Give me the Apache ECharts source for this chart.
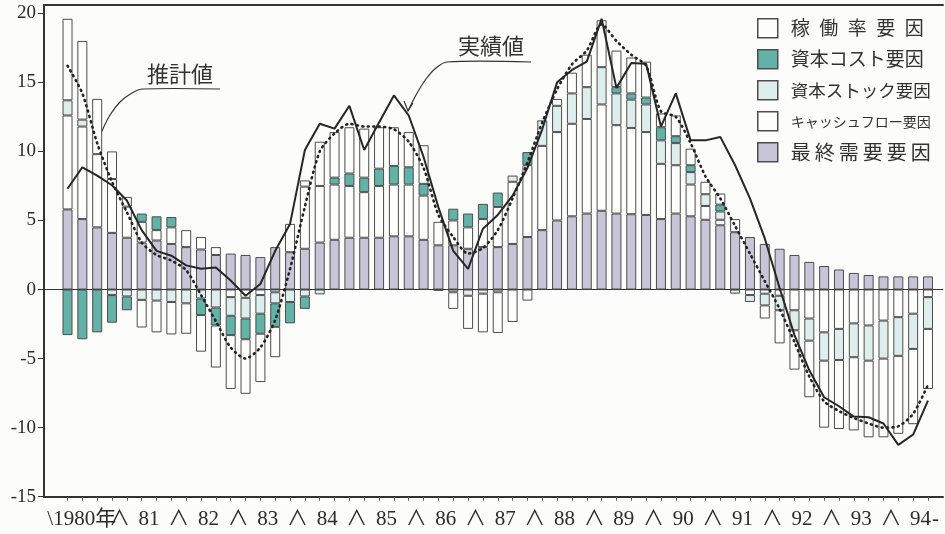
<!DOCTYPE html>
<html><head><meta charset="utf-8">
<script src="https://cdn.jsdelivr.net/npm/echarts@6/dist/echarts.min.js"></script>
<style>html,body{margin:0;padding:0;background:#fcfcfa}#c{width:945px;height:534px}</style>
</head><body><div id="c"></div>
<script>
// ---- data (1980Q1 .. 1994Q3), % contributions ----
const finalDemand = [5.8,5.1,4.5,4.1,3.75,3.4,3.55,3.3,3.07,2.9,2.5,2.6,2.5,2.35,3.07,2.7,2.95,3.4,3.6,3.75,3.75,3.75,3.85,3.85,3.6,3.2,3.2,2.95,3.07,3.07,3.3,3.8,4.3,5.0,5.3,5.5,5.7,5.5,5.45,5.4,5.1,5.5,5.3,5.05,4.65,4.15,3.8,3.3,2.95,2.5,2.0,1.7,1.45,1.2,1.05,0.95,0.95,0.95,0.95];
const cashFlow = [6.8,6.7,5.3,3.9,2.25,1.5,0.75,1.2,1.23,0.9,0.57,-0.55,-0.6,-0.4,-0.2,2.05,4.5,4.1,4.0,3.75,3.3,3.75,3.75,3.75,3.2,1.7,1.8,1.55,2.03,2.9,4.5,5.2,6.1,6.4,6.7,6.85,7.7,6.4,6.25,6.0,4.0,3.5,2.3,1.0,0.4,0.95,-0.4,-0.3,-0.45,-1.5,-2.1,-3.1,-2.85,-2.45,-2.6,-2.25,-2.0,-1.75,-0.55];
const capitalStock = [1.1,0.5,0,-0.4,-0.5,-0.75,-0.8,-0.9,-1.0,-0.65,-1.3,-1.35,-1.5,-1.35,-0.8,-0.9,-0.5,-0.35,0,0,0,0,0,0,0,-0.1,-0.2,-0.45,-0.3,-0.2,0.45,0,1.85,1.9,2.2,2.3,2.7,2.3,2.05,2.0,1.7,1.6,0.9,0.85,0.6,-0.3,-0.5,-0.85,-1.05,-1.45,-1.6,-2.05,-2.25,-2.45,-2.55,-2.75,-2.8,-2.55,-2.3];
const capitalCost = [-3.3,-3.6,-3.1,-2.0,-1.0,0.6,1.0,0.75,0,-1.2,-1.3,-1.4,-1.5,-1.45,-1.7,-1.55,-0.9,0,0.5,0.9,1.05,1.25,1.35,1.25,0.85,0,0.85,1.0,1.1,1.05,0,0.95,0,0,0,0,0,0.45,0.45,0.5,0.95,0.5,0.5,0,0.5,0,0,0,0,0,0,0,0,0,0,0,0,0,0];
const utilization = [5.9,5.7,4.0,2.0,0.7,-2.0,-2.3,-2.35,-2.2,-2.65,-3.05,-3.9,-3.95,-3.5,-2.2,0,0.45,3.2,3.3,3.35,3.55,3.0,2.8,2.55,2.8,0,-1.2,-2.4,-2.8,-2.95,-2.35,-0.8,0,0.5,1.5,2.35,3.4,2.65,2.6,2.6,1.0,1.5,1.2,0.9,0.8,0,0,-0.95,-2.4,-2.85,-4.1,-4.85,-5.0,-5.3,-5.55,-5.7,-5.65,-5.45,-4.35];
const actual = [7.3,8.85,8.25,7.55,6.45,4.3,2.8,2.45,1.75,1.5,1.6,0.65,-0.45,0.4,2.8,4.75,10.1,12.0,11.65,13.3,10.1,12.1,14.05,12.6,9.6,5.95,2.8,1.5,4.4,5.4,6.8,8.8,11.6,15.0,15.9,16.5,19.6,14.6,16.4,16.35,11.8,14.2,10.8,10.8,11.05,9.0,6.6,3.7,0.1,-3.3,-5.85,-7.8,-8.45,-9.2,-9.25,-9.7,-11.25,-10.5,-8.05];
const estimate = [16.2,14.2,10.6,7.8,5.6,3.4,2.5,2.1,1.4,-0.4,-2.3,-4.2,-5.0,-4.2,-2.2,1.5,6.0,10.0,11.3,12.0,11.8,11.8,11.6,10.7,8.8,5.4,3.8,2.6,3.0,4.3,6.6,9.2,12.1,14.5,16.3,17.3,19.2,18.0,17.0,16.2,12.9,12.5,10.6,8.2,6.6,4.6,2.6,0.6,-1.4,-3.8,-6.3,-8.1,-8.8,-9.3,-9.7,-10.0,-9.9,-9.0,-6.9];
const yearLabels = ['1980年','81','82','83','84','85','86','87','88','89','90','91','92','93','94'];
const yTicks = [-15,-10,-5,0,5,10,15,20];
const categories = finalDemand.map((_, i) => (1980 + Math.floor(i / 4)) + 'Q' + (i % 4 + 1));

const names = ['最終需要要因','キャッシュフロー要因','資本ストック要因','資本コスト要因','稼働率要因'];
const values = [finalDemand, cashFlow, capitalStock, capitalCost, utilization];
const colors = ['#c8c5d8','#fdfdfb','#ddeeed','#63b2a8','#fdfdfb'];

const legendText = {
  '稼働率要因': '稼\u2002働\u2002率\u2002要\u2002因',
  '資本コスト要因': '資本コスト要因',
  '資本ストック要因': '資本ストック要因',
  'キャッシュフロー要因': 'キャッシュフロー要因',
  '最終需要要因': '最\u2009終\u2009需\u2009要\u2009要\u2009因'
};

const serif = '"Liberation Serif", "Noto Sans CJK JP", serif';
const txt = '#2b2b2b';
const YMIN = -15, YMAX = 20.6;

const chart = echarts.init(document.getElementById('c'), null, {renderer: 'canvas'});

const barSeries = names.map((n, k) => ({
  name: n, type: 'bar', stack: 'f', xAxisIndex: 2, yAxisIndex: 1,
  barWidth: 10,
  data: values[k].map(v => v === 0 ? null : v),
  itemStyle: {color: colors[k], borderColor: '#4d4d4d', borderWidth: 1},
  z: 2
}));

const option = {
  animation: false,
  backgroundColor: '#fcfcfa',
  grid: [
    {left: 44, right: 2, top: 5, bottom: 37.3, outerBoundsMode: 'none'},
    {left: 60.1, right: 9.6, top: 5, bottom: 37.3, outerBoundsMode: 'none'}
  ],
  xAxis: [
    {gridIndex: 0, type: 'value', min: 0, max: 1, position: 'bottom',
     axisLine: {show: true, onZero: false, lineStyle: {color: '#333', width: 2}},
     axisTick: {show: false}, axisLabel: {show: false}, splitLine: {show: false}},
    {gridIndex: 0, type: 'value', min: 0, max: 1, position: 'top',
     axisLine: {show: true, onZero: false, lineStyle: {color: '#333', width: 2}},
     axisTick: {show: false}, axisLabel: {show: false}, splitLine: {show: false}},
    {gridIndex: 1, type: 'category', data: categories, position: 'bottom',
     axisLine: {show: false, onZero: false},
     axisTick: {show: true, alignWithLabel: true, interval: 0, length: 4, lineStyle: {color: '#555', width: 1}},
     axisLabel: {show: false}, splitLine: {show: false}},
    {gridIndex: 1, type: 'value', min: 0, max: categories.length, interval: 2, position: 'bottom',
     axisLine: {show: false, onZero: false}, axisTick: {show: false}, splitLine: {show: false},
     axisLabel: {show: true, showMinLabel: false, showMaxLabel: true, margin: 12,
       fontSize: 21, fontFamily: serif, color: txt,
       rich: {first: {fontSize: 21, fontFamily: serif, color: txt, padding: [0, 16, 0, 0]}},
       formatter: function (u) {
         if (u === 0) return '';
         if (u === categories.length) return '-';
         if (u % 4 === 0) return '\u2227';
         if (u === 2) return '{first|\\' + yearLabels[0] + '}';
         if (u % 4 === 2) return yearLabels[(u - 2) / 4] || '';
         return '';
       }}},
    {gridIndex: 0, type: 'value', min: 0, max: 1, position: 'bottom',
     axisLine: {show: true, onZero: true, lineStyle: {color: '#333', width: 1}},
     axisTick: {show: false}, axisLabel: {show: false}, splitLine: {show: false}}
  ],
  yAxis: [
    {gridIndex: 0, type: 'value', min: YMIN, max: YMAX, interval: 5,
     axisLine: {show: true, onZero: false, lineStyle: {color: '#333', width: 2}},
     axisTick: {show: true, length: 6, customValues: yTicks, lineStyle: {color: '#333', width: 1}},
     axisLabel: {show: true, customValues: yTicks, margin: 8, fontSize: 19, fontFamily: serif, color: txt,
       formatter: v => (yTicks.indexOf(v) >= 0 ? String(v) : '')},
     splitLine: {show: false}},
    {gridIndex: 1, type: 'value', min: YMIN, max: YMAX, show: false,
     axisLine: {onZero: false}, splitLine: {show: false}}
  ],
  legend: {
    orient: 'vertical', left: 757, top: 18, padding: 0,
    itemWidth: 20, itemHeight: 19, itemGap: 10.5, icon: 'rect', selectedMode: false,
    itemStyle: {borderColor: '#4d4d4d', borderWidth: 1.5},
    data: [
      {name: '稼働率要因', textStyle: {fontSize: 19}},
      {name: '資本コスト要因', textStyle: {fontSize: 19}},
      {name: '資本ストック要因', textStyle: {fontSize: 17.5}},
      {name: 'キャッシュフロー要因', textStyle: {fontSize: 14}},
      {name: '最終需要要因', textStyle: {fontSize: 20}}
    ],
    formatter: n => legendText[n] || n,
    textStyle: {fontFamily: '"Noto Sans CJK JP"', color: '#333', lineHeight: 19, padding: [0, 0, 0, 8]}
  },
  graphic: [
    {type: 'text', left: 147, top: 63, style: {text: '推計値', fontSize: 22, fontFamily: '"Noto Sans CJK JP"', fill: '#333'}},
    {type: 'polyline', shape: {points: [[220, 89], [143, 89], [132, 93], [120, 102], [110, 115], [101, 133]], smooth: 0.3},
     style: {stroke: '#333', lineWidth: 1.2, fill: null}},
    {type: 'text', left: 458, top: 35, style: {text: '実績値', fontSize: 22, fontFamily: '"Noto Sans CJK JP"', fill: '#333'}},
    {type: 'polyline', shape: {points: [[531, 62], [447, 62], [436, 68], [426, 79], [416, 95], [408, 111]], smooth: 0.3},
     style: {stroke: '#333', lineWidth: 1.2, fill: null}},
    {type: 'polyline', shape: {points: [[404, 101], [408, 111], [413, 103]]},
     style: {stroke: '#333', lineWidth: 1.2, fill: null}}
  ],
  series: barSeries.concat([
    {name: '推計値', type: 'line', xAxisIndex: 2, yAxisIndex: 1, data: estimate, symbol: 'none', smooth: 0.25,
     lineStyle: {color: '#222', width: 2.6, type: [1, 4.5], cap: 'round'}, z: 5},
    {name: '実績値', type: 'line', xAxisIndex: 2, yAxisIndex: 1, data: actual, symbol: 'none',
     lineStyle: {color: '#262626', width: 2}, z: 6}
  ])
};
chart.setOption(option);
</script>
</body></html>
